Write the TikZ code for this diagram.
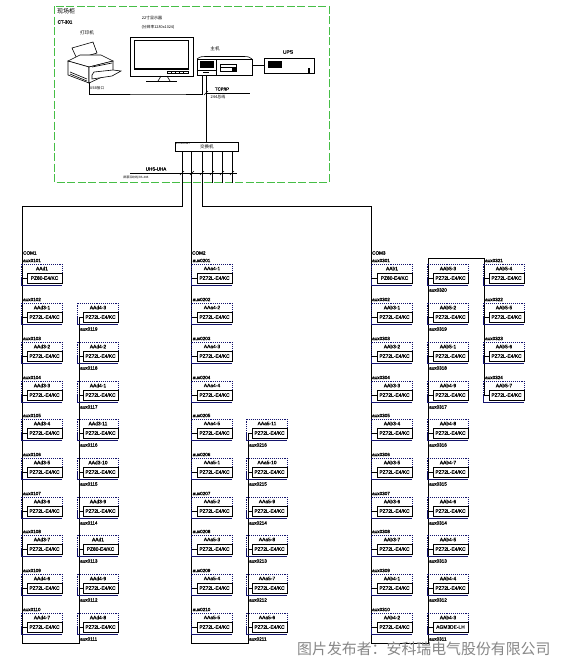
\documentclass[tikz,border=0pt]{standalone}
\usepackage{fontspec}
\setmainfont{Liberation Sans}
\newfontfamily\cjk{Noto Sans CJK SC}
\newfontfamily\heavy[FakeBold=1.2]{Liberation Sans}
\definecolor{navyb}{RGB}{20,20,110}
\definecolor{grn}{RGB}{70,190,70}
\definecolor{wm}{RGB}{135,135,135}
\tikzset{
 x=1pt,y=-1pt,
 busline/.style={draw=black,line width=0.9pt},
 thin line/.style={draw=black,line width=0.7pt},
 outerbox/.style={draw=navyb,densely dotted,line width=0.9pt,anchor=north west,minimum width=41pt,minimum height=21pt,inner sep=0pt,outer sep=0pt},
 innerbox/.style={draw=black,line width=1pt,fill=white,anchor=north west,minimum width=35pt,minimum height=10pt,inner sep=0pt,outer sep=0pt,font=\heavy\fontsize{4.9}{6}\selectfont},
 devlabel/.style={inner sep=0pt,font=\heavy\fontsize{4.9}{6}\selectfont},
 cablelabel/.style={inner sep=0pt,anchor=west,font=\heavy\fontsize{4.6}{6}\selectfont},
 cnlabel/.style={inner sep=0pt,font=\cjk\fontsize{4.6}{6}\selectfont},
 tick/.style={draw=black,line width=0.5pt},
}
\newcommand\devbody[7]{%
 \node[outerbox] (#1o) at (#2,#3) {};
 \draw[navyb,line width=0.9pt] (#2,#3+14) -- (#2,#3+21) -- (#2+41,#3+21);
 \node[devlabel] (#1t) at (#2+21,#3+4.5) {#5};
 \node[innerbox] (#1i) at (#2+6,#3+9) {#6};
 \coordinate (#1b) at (#4,#3+14);
 \draw[busline] (#1b) -- (#1i.west);
}
\newcommand\devA[7]{\devbody{#1}{#2}{#3}{#4}{#5}{#6}{#7}\node[cablelabel] (#1c) at (#4+1,#3-3.5) {#7};}
\newcommand\devB[7]{\devbody{#1}{#2}{#3}{#4}{#5}{#6}{#7}\node[cablelabel] (#1c) at (#4+1,#3+26) {#7};}
\begin{document}
\begin{tikzpicture}
\useasboundingbox (0,0) rectangle (560,664);
\fill[white] (0,0) rectangle (560,664);
% control cabinet
\draw[grn,line width=1pt,dash pattern=on 8pt off 2.5pt] (54,6) rectangle (329,182);
\node[cnlabel,font=\cjk\fontsize{6}{7}\selectfont] (cab) at (66,11) {现场柜};
\node[cnlabel,font=\heavy\fontsize{4.5}{6}\selectfont] (cabno) at (65,22) {CT-301};
% printer
\draw[line width=0.6pt,fill=white] (72,48) -- (93,42) -- (97,53) -- (77,59) -- cycle;
\draw[line width=0.6pt,fill=white] (68,61) -- (80,55) -- (101,55) -- (113,61) -- (89,67) -- cycle;
\draw[line width=0.6pt,fill=white] (68,61) -- (89,67) -- (89,83) -- (68,75) -- cycle;
\draw[line width=0.6pt,fill=white] (89,67) -- (113,61) -- (113,72) -- (89,83) -- cycle;
\draw[line width=0.6pt] (70,72) -- (87,79) (70,74) -- (87,81);
\draw[line width=0.6pt,fill=white] (92,75) -- (94,72) -- (113,70) -- (121,71) -- (112,76) -- (92,79) -- cycle;
\draw[line width=0.6pt] (92,67) -- (112,63);
\node[cnlabel] (prn) at (87,33) {打印机};
\coordinate (prnout) at (89,83);
% monitor
\node[draw=black,line width=0.7pt,minimum width=63pt,minimum height=39pt,inner sep=0pt,anchor=north west] (mon) at (130,37) {};
\draw[line width=1.1pt] (134.5,40.5) rectangle (188.5,69);
\draw[line width=0.6pt] (167,71) rectangle (188,73.5);
\foreach \q in {171,175,179,183} \draw[line width=0.4pt] (\q,71) -- (\q,73.5);
\draw[line width=0.6pt] (158,81) -- (161,76) (167,76) -- (170,81);
\draw[line width=1.3pt] (146,81.5) -- (177,81.5);
\node[cnlabel,font=\cjk\fontsize{4}{5}\selectfont] (monA) at (152,18) {22寸显示器};
\node[cnlabel,font=\cjk\fontsize{3.8}{5}\selectfont] (monB) at (158,27) {(分辨率1280x1024)};
% host
\node[draw=black,line width=0.8pt,minimum width=55pt,minimum height=16pt,inner sep=0pt,anchor=north west] (host) at (197,59) {};
\draw[line width=0.6pt] (197,59) .. controls (200,56.5) and (202,56.5) .. (205,56.5) -- (244,56.5) .. controls (248,56.5) and (250,57) .. (252,59);
\fill[black] (200,60.5) rectangle (214,68);
\draw[line width=0.6pt] (216,59) -- (216,75) (197,70) -- (216,70);
\draw[line width=0.6pt] (220,64) rectangle (236,71);
\draw[line width=0.9pt] (220,67.5) -- (236,67.5);
\fill[black] (232,67) rectangle (236,71);
\draw[line width=0.5pt] (203,72.5) -- (209,72.5);
\node[cnlabel] (hostl) at (215,49) {主机};
% UPS
\node[draw=black,line width=0.8pt,minimum width=50pt,minimum height=15pt,inner sep=0pt,anchor=north west] (ups) at (264,58) {};
\fill[black] (268,61) rectangle (282,68);
\fill[black] (307.5,68) rectangle (309.5,73);
\node[devlabel] (upsl) at (288,52) {UPS};
\coordinate (hostups) at (252,65);
\draw[thin line] (hostups) -- (hostups -| ups.west);
% switch
\node[draw=black,line width=0.8pt,minimum width=63pt,minimum height=9pt,inner sep=0pt,anchor=north west,font=\cjk\fontsize{4.5}{6}\selectfont] (sw) at (175,142) {交换机};
\node[inner sep=0pt,anchor=west,font=\fontsize{2.6}{3}\selectfont] (swn) at (176,143.5) {ETHERNET};
% network lines
\coordinate (hostin) at (206,75);
\coordinate (hostlpt) at (202,75);
\coordinate (tcp) at (250,93);
\coordinate (tcpj) at (206,93);
\draw[thin line] (hostin) -- (hostin |- sw.north);
\draw[thin line] (tcpj) -- (tcp);
\draw[tick] (204,95) -- (208,91);
\draw[thin line] (prnout) |- (170,94) -| (hostlpt);
\node[cnlabel,font=\heavy\fontsize{4.4}{6}\selectfont] (tcpl) at (222,89) {TCP/IP};
\node[cnlabel,font=\cjk\fontsize{4}{6}\selectfont] (tcpm) at (218,97) {244总线};
\node[cnlabel,font=\cjk\fontsize{3.6}{5}\selectfont] (usb) at (97,88) {USB接口};
\coordinate (s1) at (182,151);
\coordinate (s2) at (191.5,151);
\coordinate (s3) at (202,151);
\coordinate (s4) at (212,151);
\coordinate (s5) at (222,151);
\coordinate (s6) at (232,151);
\coordinate (e4) at (212,183);
\coordinate (e5) at (222,183);
\coordinate (e6) at (232,183);
\draw[thin line] (s4) -- (e4) (s5) -- (e5) (s6) -- (e6);
\coordinate (hA) at (130,173);
\coordinate (hB) at (237,173);
\draw[thin line] (hA) -- (hB);
\foreach \q in {182,192,202,212,222,232} \draw[tick] (\q-2,175) -- (\q+2,171);
\node[cnlabel,font=\heavy\fontsize{4.5}{6}\selectfont] (uhs) at (156,169) {UHS-UHA};
\node[cnlabel,font=\cjk\fontsize{2.9}{5}\selectfont] (rs) at (136,178) {屏蔽双绞线/RS-485};
% buses
\coordinate (c1t) at (22,206);\coordinate (c1b) at (22,643);
\coordinate (c2b) at (79,643);\coordinate (c2t) at (79,317);
\draw[busline] (s1) |- (c1t) -- (c1b) -- (c2b) -- (c2t);
\coordinate (c3b) at (191.5,643);\coordinate (c4b) at (248,643);\coordinate (c4t) at (248,433);
\draw[busline] (s2) -- (c3b) -- (c4b) -- (c4t);
\coordinate (c5t) at (371,206);\coordinate (c5b) at (371,643);
\coordinate (c6b) at (428,643);\coordinate (c6t) at (428,258);
\coordinate (c7t) at (484,258);\coordinate (c7b) at (484,395);
\draw[busline] (s3) |- (c5t) -- (c5b) -- (c6b) -- (c6t) -- (c7t) -- (c7b);
% column 1
\node[cablelabel] (com1) at (23,253) {COM1};
\devA{a1}{21}{264}{22}{AAd1}{PZ80-E4/KC}{aux0101}
\devA{a2}{21}{303}{22}{AAd3-1}{PZ72L-E4/KC}{aux0102}
\devA{a3}{21}{342}{22}{AAd3-2}{PZ72L-E4/KC}{aux0103}
\devA{a4}{21}{381}{22}{AAd3-3}{PZ72L-E4/KC}{aux0104}
\devA{a5}{21}{419}{22}{AAd3-4}{PZ72L-E4/KC}{aux0105}
\devA{a6}{21}{458}{22}{AAd3-5}{PZ72L-E4/KC}{aux0106}
\devA{a7}{21}{497}{22}{AAd3-6}{PZ72L-E4/KC}{aux0107}
\devA{a8}{21}{535}{22}{AAd3-7}{PZ72L-E4/KC}{aux0108}
\devA{a9}{21}{574}{22}{AAd4-6}{PZ72L-E4/KC}{aux0109}
\devA{a10}{21}{613}{22}{AAd4-7}{PZ72L-E4/KC}{aux0110}
% column 2
\devB{b2}{77}{303}{79}{AAd4-3}{PZ72L-E4/KC}{aux0119}
\devB{b3}{77}{342}{79}{AAd4-2}{PZ72L-E4/KC}{aux0118}
\devB{b4}{77}{381}{79}{AAd4-1}{PZ72L-E4/KC}{aux0117}
\devB{b5}{77}{419}{79}{AAd3-11}{PZ72L-E4/KC}{aux0116}
\devB{b6}{77}{458}{79}{AAd3-10}{PZ72L-E4/KC}{aux0115}
\devB{b7}{77}{497}{79}{AAd3-9}{PZ72L-E4/KC}{aux0114}
\devB{b8}{77}{535}{79}{AAd1}{PZ80-E4/KC}{aux0113}
\devB{b9}{77}{574}{79}{AAd4-9}{PZ72L-E4/KC}{aux0112}
\devB{b10}{77}{613}{79}{AAd4-8}{PZ72L-E4/KC}{aux0111}
% column 3
\node[cablelabel] (com2) at (192,253) {COM2};
\devA{c1}{191}{264}{191.5}{AAa4-1}{PZ72L-E4/KC}{aux0201}
\devA{c2}{191}{303}{191.5}{AAa4-2}{PZ72L-E4/KC}{aux0202}
\devA{c3}{191}{342}{191.5}{AAa4-3}{PZ72L-E4/KC}{aux0203}
\devA{c4}{191}{381}{191.5}{AAa4-4}{PZ72L-E4/KC}{aux0204}
\devA{c5}{191}{419}{191.5}{AAa4-5}{PZ72L-E4/KC}{aux0205}
\devA{c6}{191}{458}{191.5}{AAa5-1}{PZ72L-E4/KC}{aux0206}
\devA{c7}{191}{497}{191.5}{AAa5-2}{PZ72L-E4/KC}{aux0207}
\devA{c8}{191}{535}{191.5}{AAa5-3}{PZ72L-E4/KC}{aux0208}
\devA{c9}{191}{574}{191.5}{AAa5-4}{PZ72L-E4/KC}{aux0209}
\devA{c10}{191}{613}{191.5}{AAa5-5}{PZ72L-E4/KC}{aux0210}
% column 4
\devB{d5}{246}{419}{248}{AAa5-11}{PZ72L-E4/KC}{aux0216}
\devB{d6}{246}{458}{248}{AAa5-10}{PZ72L-E4/KC}{aux0215}
\devB{d7}{246}{497}{248}{AAa5-9}{PZ72L-E4/KC}{aux0214}
\devB{d8}{246}{535}{248}{AAa5-8}{PZ72L-E4/KC}{aux0213}
\devB{d9}{246}{574}{248}{AAa5-7}{PZ72L-E4/KC}{aux0212}
\devB{d10}{246}{613}{248}{AAa5-6}{PZ72L-E4/KC}{aux0211}
% column 5
\node[cablelabel] (com3) at (372,253) {COM3};
\devA{e1}{371}{264}{371}{AAb1}{PZ80-E4/KC}{aux0301}
\devA{e2}{371}{303}{371}{AAb3-1}{PZ72L-E4/KC}{aux0302}
\devA{e3}{371}{342}{371}{AAb3-2}{PZ72L-E4/KC}{aux0303}
\devA{e4d}{371}{381}{371}{AAb3-3}{PZ72L-E4/KC}{aux0304}
\devA{e5d}{371}{419}{371}{AAb3-4}{PZ72L-E4/KC}{aux0305}
\devA{e6d}{371}{458}{371}{AAb3-5}{PZ72L-E4/KC}{aux0306}
\devA{e7}{371}{497}{371}{AAb3-6}{PZ72L-E4/KC}{aux0307}
\devA{e8}{371}{535}{371}{AAb3-7}{PZ72L-E4/KC}{aux0308}
\devA{e9}{371}{574}{371}{AAb4-1}{PZ72L-E4/KC}{aux0309}
\devA{e10}{371}{613}{371}{AAb4-2}{PZ72L-E4/KC}{aux0310}
% column 6
\devB{f1}{427}{264}{428}{AAb5-3}{PZ72L-E4/KC}{aux0320}
\devB{f2}{427}{303}{428}{AAb5-2}{PZ72L-E4/KC}{aux0319}
\devB{f3}{427}{342}{428}{AAb5-1}{PZ72L-E4/KC}{aux0318}
\devB{f4}{427}{381}{428}{AAb4-9}{PZ72L-E4/KC}{aux0317}
\devB{f5}{427}{419}{428}{AAb4-8}{PZ72L-E4/KC}{aux0316}
\devB{f6}{427}{458}{428}{AAb4-7}{PZ72L-E4/KC}{aux0315}
\devB{f7}{427}{497}{428}{AAb4-6}{PZ72L-E4/KC}{aux0314}
\devB{f8}{427}{535}{428}{AAb4-5}{PZ72L-E4/KC}{aux0313}
\devB{f9}{427}{574}{428}{AAb4-4}{PZ72L-E4/KC}{aux0312}
\devB{f10}{427}{613}{428}{AAb4-3}{AGM3DE-LH}{aux0311}
% column 7
\devA{g1}{483}{264}{484}{AAb5-4}{PZ72L-E4/KC}{aux0321}
\devA{g2}{483}{303}{484}{AAb5-5}{PZ72L-E4/KC}{aux0322}
\devA{g3}{483}{342}{484}{AAb5-6}{PZ72L-E4/KC}{aux0323}
\devA{g4}{483}{381}{484}{AAb5-7}{PZ72L-E4/KC}{aux0324}
% watermark
\node[inner sep=0pt,anchor=west,text=wm,font=\cjk\fontsize{14.9}{16}\selectfont] (wmk) at (297,649) {图片发布者：安科瑞电气股份有限公司};
\end{tikzpicture}
\end{document}
